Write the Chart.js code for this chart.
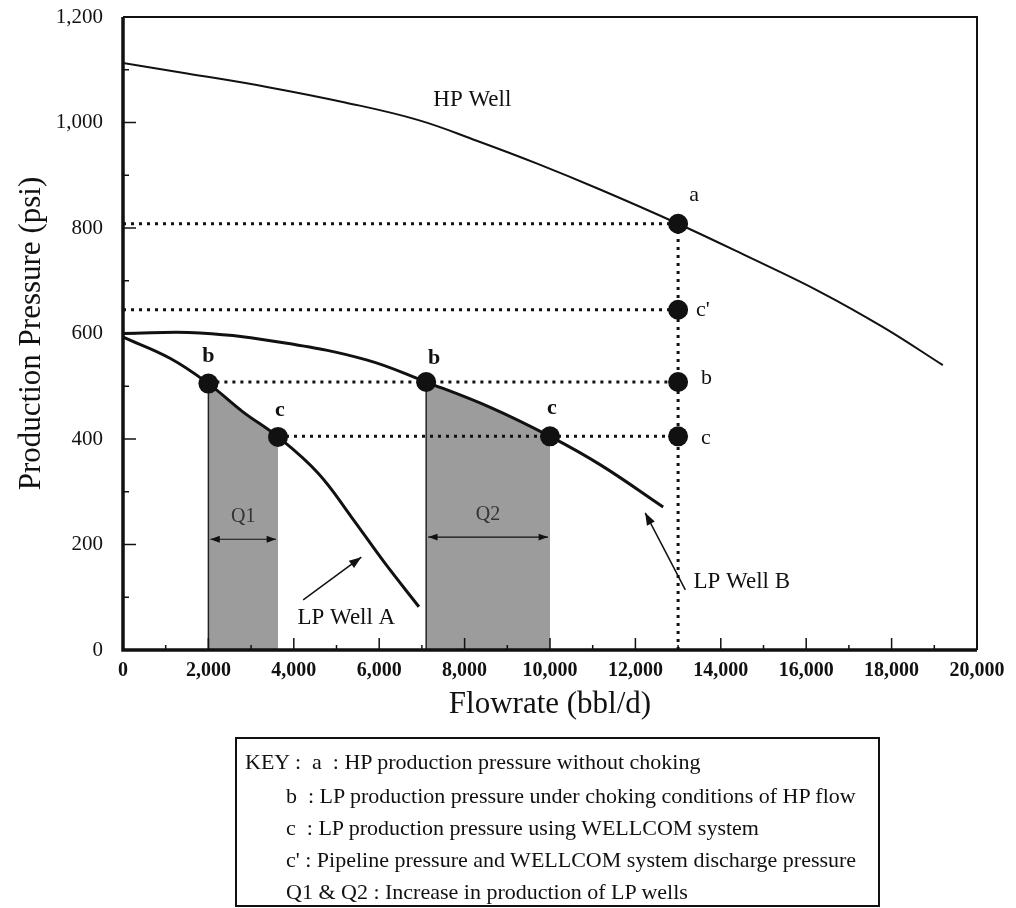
<!DOCTYPE html>
<html>
<head>
<meta charset="utf-8">
<script src="https://cdn.jsdelivr.net/npm/chart.js@4.4.1/dist/chart.umd.min.js"></script>
<style>
  html, body { margin: 0; padding: 0; background: #fff; }
  #wrap { position: relative; width: 1016px; height: 908px; overflow: hidden; }
  #key {
    position: absolute; left: 235px; top: 737px; width: 641px; height: 166px;
    border: 2px solid #111; font-family: "Liberation Serif", serif; font-size: 22px; color: #111;
  }
  #key div { position: absolute; white-space: pre; line-height: 22px; }
</style>
</head>
<body>
<div id="wrap">
  <canvas id="chart" width="1016" height="908"></canvas>
  <div id="key">
    <div style="left:8px;top:12px">KEY :  a  : HP production pressure without choking</div>
    <div style="left:49px;top:46px">b  : LP production pressure under choking conditions of HP flow</div>
    <div style="left:49px;top:78px">c  : LP production pressure using WELLCOM system</div>
    <div style="left:49px;top:110px">c' : Pipeline pressure and WELLCOM system discharge pressure</div>
    <div style="left:49px;top:142px">Q1 &amp; Q2 : Increase in production of LP wells</div>
  </div>
</div>
<script>
// values
const xTickValues = [0, 2000, 4000, 6000, 8000, 10000, 12000, 14000, 16000, 18000, 20000];
const yTickValues = [0, 200, 400, 600, 800, 1000, 1200];

const hpFlow = [0, 1500, 3400, 5200, 6900, 8300, 9700, 11200, 13000, 14600, 16300, 17800, 19200];
const hpPressure = [1113, 1093, 1067, 1038, 1005, 965, 922, 872, 808, 747, 680, 612, 540];

const lpAFlow = [0, 1100, 2000, 2800, 3630, 4570, 5350, 6130, 6930];
const lpAPressure = [593, 553, 505, 452, 404, 335, 252, 165, 82];

const lpBFlow = [0, 1800, 3800, 5700, 7100, 8600, 10000, 11200, 12650];
const lpBPressure = [600, 601, 582, 550, 508, 460, 405, 350, 271];

const pointFlow = [2000, 3630, 7100, 10000, 13000, 13000, 13000, 13000];
const pointPressure = [505, 404, 508, 405, 808, 645, 508, 405];
const pointNames = ['b', 'c', 'b', 'c', 'a', "c'", 'b', 'c'];

// dotted guide lines: level, start flow, end flow
const guideLevel = [808, 645, 508, 405];
const guideFrom = [0, 0, 2000, 3630];
const guideTo = 13000;

// shaded production gains
const qNames = ['Q1', 'Q2'];
const qStart = [2000, 7100];
const qEnd = [3630, 10000];
const qArrowAt = [210, 214];

const FONT = '"Liberation Serif", "DejaVu Serif", serif';
const INK = '#111';

function zip(xs, ys) {
  return xs.map((x, i) => ({ x: x, y: ys[i] }));
}

function curve(xs, ys, width) {
  return {
    data: zip(xs, ys),
    borderColor: INK,
    borderWidth: width,
    pointRadius: 0,
    tension: 0.4,
    fill: false
  };
}

function dotted(points) {
  return {
    data: points,
    borderColor: INK,
    borderWidth: 3,
    borderDash: [3, 5],
    borderCapStyle: 'butt',
    pointRadius: 0,
    fill: false
  };
}

const datasets = [];

// markers
datasets.push({
  data: zip(pointFlow, pointPressure),
  showLine: false,
  pointRadius: 10,
  pointBackgroundColor: INK,
  pointBorderColor: INK,
  pointBorderWidth: 0
});

datasets.push(curve(hpFlow, hpPressure, 2));
datasets.push(curve(lpAFlow, lpAPressure, 3));
datasets.push(curve(lpBFlow, lpBPressure, 3));

guideLevel.forEach((lvl, i) => {
  datasets.push(dotted([{ x: guideFrom[i], y: lvl }, { x: guideTo, y: lvl }]));
});
datasets.push(dotted([{ x: guideTo, y: 0 }, { x: guideTo, y: guideLevel[0] }]));

// shaded areas under the LP curves, plus their left edge lines
const qCurves = [[lpAFlow, lpAPressure], [lpBFlow, lpBPressure]];
qNames.forEach((n, i) => {
  const [xs, ys] = qCurves[i];
  const seg = zip(xs, ys).filter(p => p.x >= qStart[i] && p.x <= qEnd[i]);
  datasets.push({
    data: [{ x: seg[0].x, y: 0 }, seg[0]],
    borderColor: '#222',
    borderWidth: 1.5,
    pointRadius: 0,
    fill: false
  });
  datasets.push({
    data: seg,
    borderWidth: 0,
    borderColor: 'rgba(0,0,0,0)',
    backgroundColor: '#9c9c9c',
    pointRadius: 0,
    tension: 0.4,
    fill: 'origin'
  });
});

// label offsets (pixels) relative to each marker
const labelOffset = [[0, -27, 'center', 'bold'], [2, -27, 'center', 'bold'], [8, -24, 'center', 'bold'],
  [2, -28, 'center', 'bold'], [16, -29, 'center', 'normal'], [18, 0, 'left', 'normal'],
  [23, -4, 'left', 'normal'], [23, 2, 'left', 'normal']];

const notes = [
  { text: 'HP Well', x: 8180, y: 1043, align: 'center' },
  { text: 'LP Well A', x: 5230, y: 61, align: 'center' },
  { text: 'LP Well B', x: 13360, y: 129, align: 'left' }
];
const arrows = [
  { from: [4220, 95], to: [5580, 176] },
  { from: [13170, 114], to: [12230, 260] }
];

function arrowHead(ctx, x1, y1, x2, y2, size) {
  const ang = Math.atan2(y2 - y1, x2 - x1);
  ctx.beginPath();
  ctx.moveTo(x2, y2);
  ctx.lineTo(x2 - size * Math.cos(ang - 0.35), y2 - size * Math.sin(ang - 0.35));
  ctx.lineTo(x2 - size * Math.cos(ang + 0.35), y2 - size * Math.sin(ang + 0.35));
  ctx.closePath();
  ctx.fill();
}

const decor = {
  id: 'decor',
  afterDatasetsDraw(chart) {
    const { ctx, chartArea: a, scales: { x, y } } = chart;
    ctx.save();
    ctx.strokeStyle = INK;
    ctx.fillStyle = INK;

    // frame
    ctx.lineWidth = 2;
    ctx.beginPath();
    ctx.moveTo(a.left, a.top); ctx.lineTo(a.right, a.top); ctx.lineTo(a.right, a.bottom);
    ctx.stroke();
    ctx.lineWidth = 3.5;
    ctx.beginPath();
    ctx.moveTo(a.left, a.top); ctx.lineTo(a.left, a.bottom); ctx.lineTo(a.right, a.bottom);
    ctx.stroke();

    // inward ticks
    ctx.lineWidth = 1.5;
    for (let v = 100; v < 1200; v += 100) {
      const py = y.getPixelForValue(v);
      const len = v % 200 === 0 ? 13 : 6;
      ctx.beginPath(); ctx.moveTo(a.left, py); ctx.lineTo(a.left + len, py); ctx.stroke();
    }
    for (let v = 1000; v < 20000; v += 1000) {
      const px = x.getPixelForValue(v);
      const len = v % 2000 === 0 ? 12 : 5;
      ctx.beginPath(); ctx.moveTo(px, a.bottom); ctx.lineTo(px, a.bottom - len); ctx.stroke();
    }

    // Q double arrows and names
    qNames.forEach((n, i) => {
      const x1 = x.getPixelForValue(qStart[i]) + 2;
      const x2 = x.getPixelForValue(qEnd[i]) - 2;
      const py = y.getPixelForValue(qArrowAt[i]);
      ctx.lineWidth = 1.2;
      ctx.beginPath(); ctx.moveTo(x1, py); ctx.lineTo(x2, py); ctx.stroke();
      arrowHead(ctx, x2, py, x1, py, 10);
      arrowHead(ctx, x1, py, x2, py, 10);
      ctx.font = '20px ' + FONT;
      ctx.fillStyle = '#333';
      ctx.textAlign = 'center';
      ctx.textBaseline = 'middle';
      ctx.fillText(n, (x1 + x2) / 2, py - 22);
      ctx.fillStyle = INK;
    });

    // marker labels
    pointNames.forEach((n, i) => {
      const [dx, dy, al, wt] = labelOffset[i];
      ctx.font = wt + ' 22px ' + FONT;
      ctx.textAlign = al;
      ctx.textBaseline = 'middle';
      ctx.fillText(n, x.getPixelForValue(pointFlow[i]) + dx, y.getPixelForValue(pointPressure[i]) + dy);
    });

    // curve names
    ctx.font = '23px ' + FONT;
    notes.forEach(t => {
      ctx.textAlign = t.align;
      ctx.textBaseline = 'middle';
      ctx.fillText(t.text, x.getPixelForValue(t.x), y.getPixelForValue(t.y));
    });
    ctx.lineWidth = 1.5;
    arrows.forEach(r => {
      const x1 = x.getPixelForValue(r.from[0]), y1 = y.getPixelForValue(r.from[1]);
      const x2 = x.getPixelForValue(r.to[0]), y2 = y.getPixelForValue(r.to[1]);
      ctx.beginPath(); ctx.moveTo(x1, y1); ctx.lineTo(x2, y2); ctx.stroke();
      arrowHead(ctx, x1, y1, x2, y2, 13);
    });
    ctx.restore();
  }
};

new Chart(document.getElementById('chart'), {
  type: 'line',
  data: { datasets: datasets },
  options: {
    responsive: false,
    animation: false,
    events: [],
    layout: { padding: { left: 0, top: 17, right: 39, bottom: 183 } },
    plugins: { legend: { display: false }, tooltip: { enabled: false } },
    scales: {
      x: {
        type: 'linear',
        min: 0,
        max: 20000,
        afterFit(scale) { scale.height = 75; scale.paddingLeft = 0; scale.paddingRight = 0; },
        afterBuildTicks(scale) { scale.ticks = xTickValues.map(v => ({ value: v })); },
        grid: { display: false },
        border: { display: false },
        ticks: {
          padding: 1,
          color: INK,
          font: { family: FONT, size: 20, weight: 'bold' },
          callback: v => v.toLocaleString('en-US')
        },
        title: {
          display: true,
          text: 'Flowrate (bbl/d)',
          color: INK,
          font: { family: FONT, size: 31 },
          padding: { top: 0, bottom: 2 }
        }
      },
      y: {
        type: 'linear',
        min: 0,
        max: 1200,
        afterFit(scale) { scale.width = 123; scale.paddingTop = 0; scale.paddingBottom = 0; },
        afterBuildTicks(scale) { scale.ticks = yTickValues.map(v => ({ value: v })); },
        grid: { display: false },
        border: { display: false },
        ticks: {
          padding: 12,
          color: INK,
          font: { family: FONT, size: 21 },
          callback: v => v.toLocaleString('en-US')
        },
        title: {
          display: true,
          text: 'Production Pressure (psi)',
          color: INK,
          font: { family: FONT, size: 31 },
          padding: { top: 13, bottom: 0 }
        }
      }
    }
  },
  plugins: [decor]
});
</script>
</body>
</html>
